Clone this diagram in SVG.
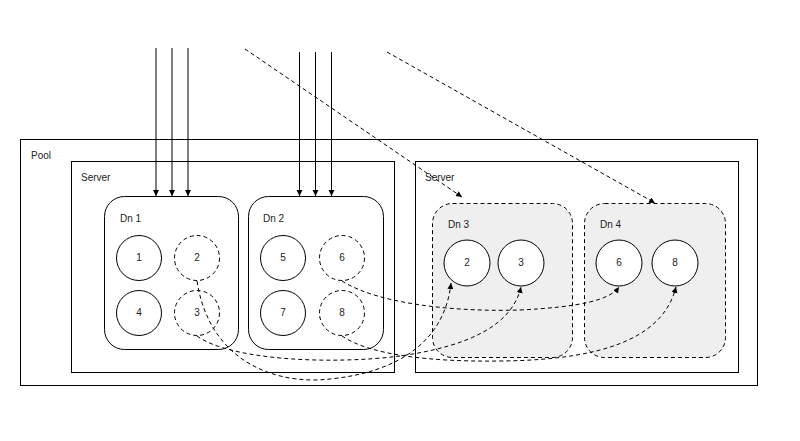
<svg xmlns="http://www.w3.org/2000/svg" width="800" height="441" viewBox="0 0 800 441">
<style>
text{font-family:"Liberation Sans",Arial,sans-serif;font-size:10px;fill:#222}
.c{text-anchor:middle}
.box{fill:none;stroke:#000;stroke-width:1}
.dn{fill:#fff;stroke:#000;stroke-width:1}
.dnd{fill:#efefef;stroke:#000;stroke-width:1;stroke-dasharray:4 3}
.cs{fill:#fff;stroke:#000;stroke-width:1}
.cd{fill:none;stroke:#000;stroke-width:1;stroke-dasharray:4 3}
.ln{fill:none;stroke:#000;stroke-width:1}
.dl{fill:none;stroke:#000;stroke-width:1;stroke-dasharray:4 3}
</style>
<defs>
<marker id="ah" markerWidth="8" markerHeight="8" refX="6" refY="3" orient="auto" markerUnits="userSpaceOnUse">
<path d="M0,0 L6,3 L0,6 Z" fill="#000"/>
</marker>
</defs>
<rect width="800" height="441" fill="#fff"/>
<g id="pool">
<rect class="box" x="20.5" y="139.5" width="737" height="246"/>
<text x="31" y="159">Pool</text>
</g>
<g id="server1">
<rect class="box" x="71.5" y="161.5" width="323" height="211"/>
<text x="81" y="181">Server</text>
</g>
<g id="server2">
<rect class="box" x="415.5" y="161.5" width="323" height="211"/>
<text x="425" y="181">Server</text>
</g>
<g id="dn1">
<rect class="dn" x="104.5" y="196.5" width="134" height="153" rx="20"/>
<text x="120" y="222">Dn 1</text>
<circle class="cs" cx="139" cy="258" r="22.5"/><text class="c" x="139" y="261">1</text>
<circle class="cd" cx="197" cy="258" r="22.5"/><text class="c" x="197" y="261">2</text>
<circle class="cs" cx="139" cy="313" r="22.5"/><text class="c" x="139" y="316">4</text>
<circle class="cd" cx="197" cy="313" r="22.5"/><text class="c" x="197" y="316">3</text>
</g>
<g id="dn2">
<rect class="dn" x="248.5" y="196.5" width="135" height="153" rx="20"/>
<text x="263" y="222">Dn 2</text>
<circle class="cs" cx="283" cy="258" r="22.5"/><text class="c" x="283" y="261">5</text>
<circle class="cd" cx="342" cy="258" r="22.5"/><text class="c" x="342" y="261">6</text>
<circle class="cs" cx="283" cy="313" r="22.5"/><text class="c" x="283" y="316">7</text>
<circle class="cd" cx="342" cy="313" r="22.5"/><text class="c" x="342" y="316">8</text>
</g>
<g id="dn3">
<rect class="dnd" x="432.5" y="203.5" width="140" height="154" rx="20"/>
<text x="448" y="228">Dn 3</text>
<circle class="cs" cx="467" cy="263" r="23"/><text class="c" x="467" y="266">2</text>
<circle class="cs" cx="521" cy="263" r="23"/><text class="c" x="521" y="266">3</text>
</g>
<g id="dn4">
<rect class="dnd" x="584.5" y="203.5" width="141" height="154" rx="20"/>
<text x="600" y="228">Dn 4</text>
<circle class="cs" cx="619" cy="263" r="23"/><text class="c" x="619" y="266">6</text>
<circle class="cs" cx="675" cy="263" r="23"/><text class="c" x="675" y="266">8</text>
</g>
<g id="connectors">
<line class="ln" x1="156" y1="48" x2="156" y2="196" marker-end="url(#ah)"/>
<line class="ln" x1="172" y1="48" x2="172" y2="196" marker-end="url(#ah)"/>
<line class="ln" x1="188" y1="48" x2="188" y2="196" marker-end="url(#ah)"/>
<line class="ln" x1="299.5" y1="52" x2="299.5" y2="196" marker-end="url(#ah)"/>
<line class="ln" x1="315.5" y1="52" x2="315.5" y2="196" marker-end="url(#ah)"/>
<line class="ln" x1="331.5" y1="52" x2="331.5" y2="196" marker-end="url(#ah)"/>
<line class="dl" x1="245" y1="49" x2="462" y2="197" marker-end="url(#ah)"/>
<line class="dl" x1="387" y1="52" x2="655" y2="203" marker-end="url(#ah)"/>
<path class="dl" d="M197,281 C210,365 280,385 330,379 C400,372 445,340 451,283" marker-end="url(#ah)"/>
<path class="dl" d="M197,336 C230,360 330,365 400,356 C470,346 512,325 521,287" marker-end="url(#ah)"/>
<path class="dl" d="M342,281 C380,305 460,312 520,310 C580,307 610,300 619,287" marker-end="url(#ah)"/>
<path class="dl" d="M342,336 C370,355 430,362 500,361 C620,360 665,330 676,287" marker-end="url(#ah)"/>
</g>
</svg>
